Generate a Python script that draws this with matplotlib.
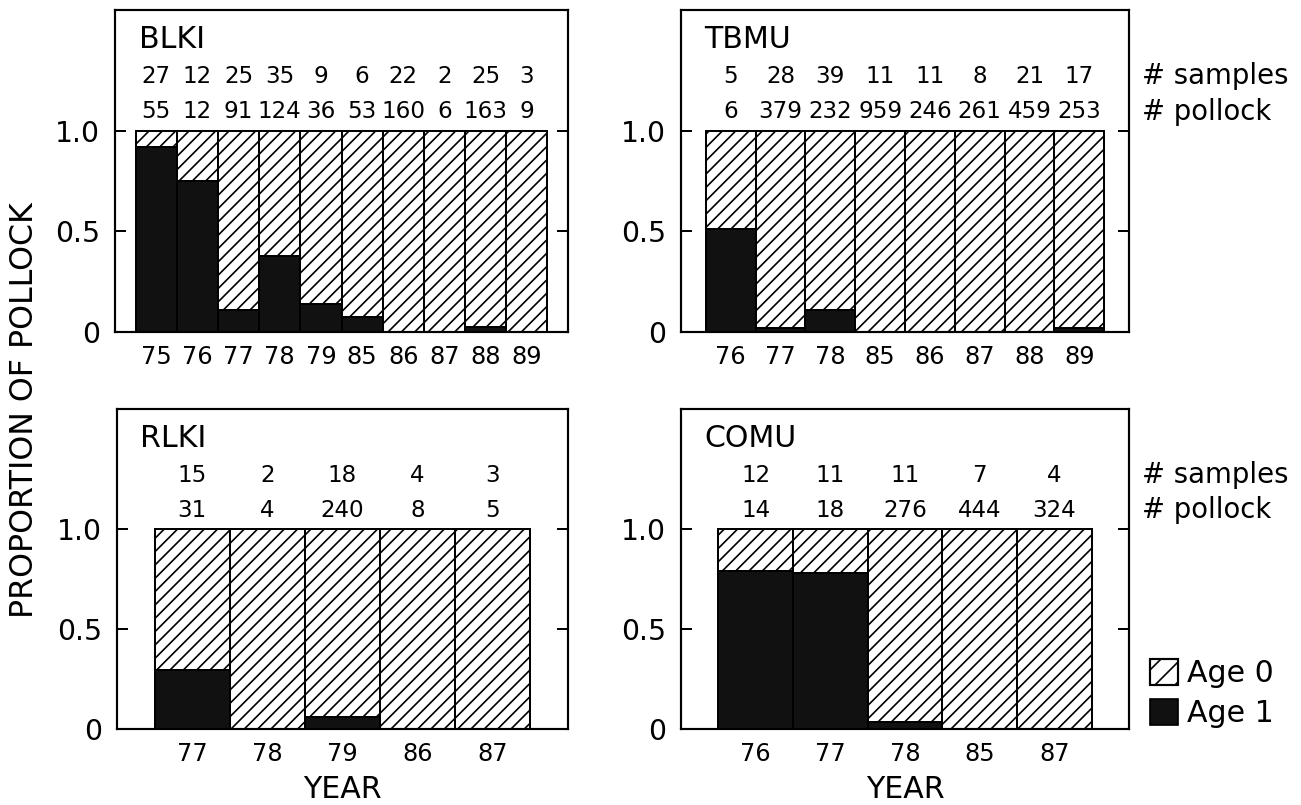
import matplotlib
matplotlib.use("Agg")
import matplotlib.pyplot as plt
from matplotlib.patches import Patch
from matplotlib.transforms import blended_transform_factory

# ---- data -------------------------------------------------------------
blki_years = ['75', '76', '77', '78', '79', '85', '86', '87', '88', '89']
blki_age1 = [0.92, 0.75, 0.11, 0.38, 0.14, 0.076, 0.0, 0.0, 0.023, 0.0]
blki_samples = [27, 12, 25, 35, 9, 6, 22, 2, 25, 3]
blki_pollock = [55, 12, 91, 124, 36, 53, 160, 6, 163, 9]

tbmu_years = ['76', '77', '78', '85', '86', '87', '88', '89']
tbmu_age1 = [0.51, 0.02, 0.11, 0.0, 0.0, 0.0, 0.0, 0.02]
tbmu_samples = [5, 28, 39, 11, 11, 8, 21, 17]
tbmu_pollock = [6, 379, 232, 959, 246, 261, 459, 253]

rlki_years = ['77', '78', '79', '86', '87']
rlki_age1 = [0.295, 0.0, 0.06, 0.0, 0.0]
rlki_samples = [15, 2, 18, 4, 3]
rlki_pollock = [31, 4, 240, 8, 5]

comu_years = ['76', '77', '78', '85', '87']
comu_age1 = [0.79, 0.78, 0.036, 0.0, 0.0]
comu_samples = [12, 11, 11, 7, 4]
comu_pollock = [14, 18, 276, 444, 324]

species = ['BLKI', 'TBMU', 'RLKI', 'COMU']

# ---- style ------------------------------------------------------------
DPI = 120
plt.rcParams['font.family'] = ['DejaVu Sans']
plt.rcParams['hatch.linewidth'] = 1.0
plt.rcParams['hatch.color'] = 'black'

fig = plt.figure(figsize=(1301 / DPI, 805 / DPI), dpi=DPI)

# axes rectangles in figure fractions
rects = [
    [0.0884, 0.5876, 0.3482, 0.4000],
    [0.5234, 0.5876, 0.3444, 0.4000],
    [0.0899, 0.0944, 0.3467, 0.3975],
    [0.5234, 0.0944, 0.3444, 0.3975],
]

panels = [
    (blki_years, blki_age1, blki_samples, blki_pollock),
    (tbmu_years, tbmu_age1, tbmu_samples, tbmu_pollock),
    (rlki_years, rlki_age1, rlki_samples, rlki_pollock),
    (comu_years, comu_age1, comu_samples, comu_pollock),
]

NUM_FS = 13.8
HATCH = '///'
for i, (rect, name, (years, age1, samples, pollock)) in enumerate(zip(rects, species, panels)):
    ax = fig.add_axes(rect)
    n = len(years)
    x = list(range(n))
    age0 = [1.0 - v for v in age1]

    ax.bar(x, age1, width=1.0, color='#111111', edgecolor='black', linewidth=1.2)
    ax.bar(x, age0, bottom=age1, width=1.0, color='white', edgecolor='black',
           linewidth=1.2, hatch=HATCH)

    ax.set_xlim(-1, n)
    ax.set_ylim(0, 1.6)
    ax.set_xticks(x)
    ax.set_xticklabels(years, fontsize=14.5)
    ax.tick_params(axis='x', length=0, pad=8)
    ax.set_yticks([0, 0.5, 1.0])
    ax.set_yticklabels(['0', '0.5', '1.0'], fontsize=17)
    ax.tick_params(axis='y', direction='in', length=6.5, width=1.2,
                   left=True, right=True, pad=9)
    for sp in ax.spines.values():
        sp.set_linewidth(1.3)

    # species code and sample counts above the bars
    tr = blended_transform_factory(ax.transAxes, ax.transData)
    ax.text(0.052, 1.455, name, transform=tr, fontsize=18, ha='left', va='center')
    for xi, s, p in zip(x, samples, pollock):
        ax.text(xi, 1.27, str(s), fontsize=NUM_FS, ha='center', va='center')
        ax.text(xi, 1.095, str(p), fontsize=NUM_FS, ha='center', va='center')

    if i in (1, 3):
        ax.text(1.029, 1.27, '# samples', transform=tr, fontsize=16.5,
                ha='left', va='center')
        ax.text(1.029, 1.095, '# pollock', transform=tr, fontsize=16.5,
                ha='left', va='center')

    if i in (2, 3):
        ax.set_xlabel('YEAR', fontsize=18, labelpad=5)

    if i == 3:
        handles = [Patch(facecolor='white', edgecolor='black', hatch='//', linewidth=1.3),
                   Patch(facecolor='#111111', edgecolor='black')]
        ax.legend(handles, ['Age 0', 'Age 1'], loc='lower left',
                  bbox_to_anchor=(1.02, -0.035), frameon=False, fontsize=18,
                  handlelength=0.95, handleheight=0.95, handletextpad=0.3,
                  labelspacing=0.35, borderaxespad=0)

fig.text(0.019, 0.49, 'PROPORTION OF POLLOCK', rotation=90, fontsize=19,
         ha='center', va='center')

fig.savefig('out.png', dpi=DPI)
